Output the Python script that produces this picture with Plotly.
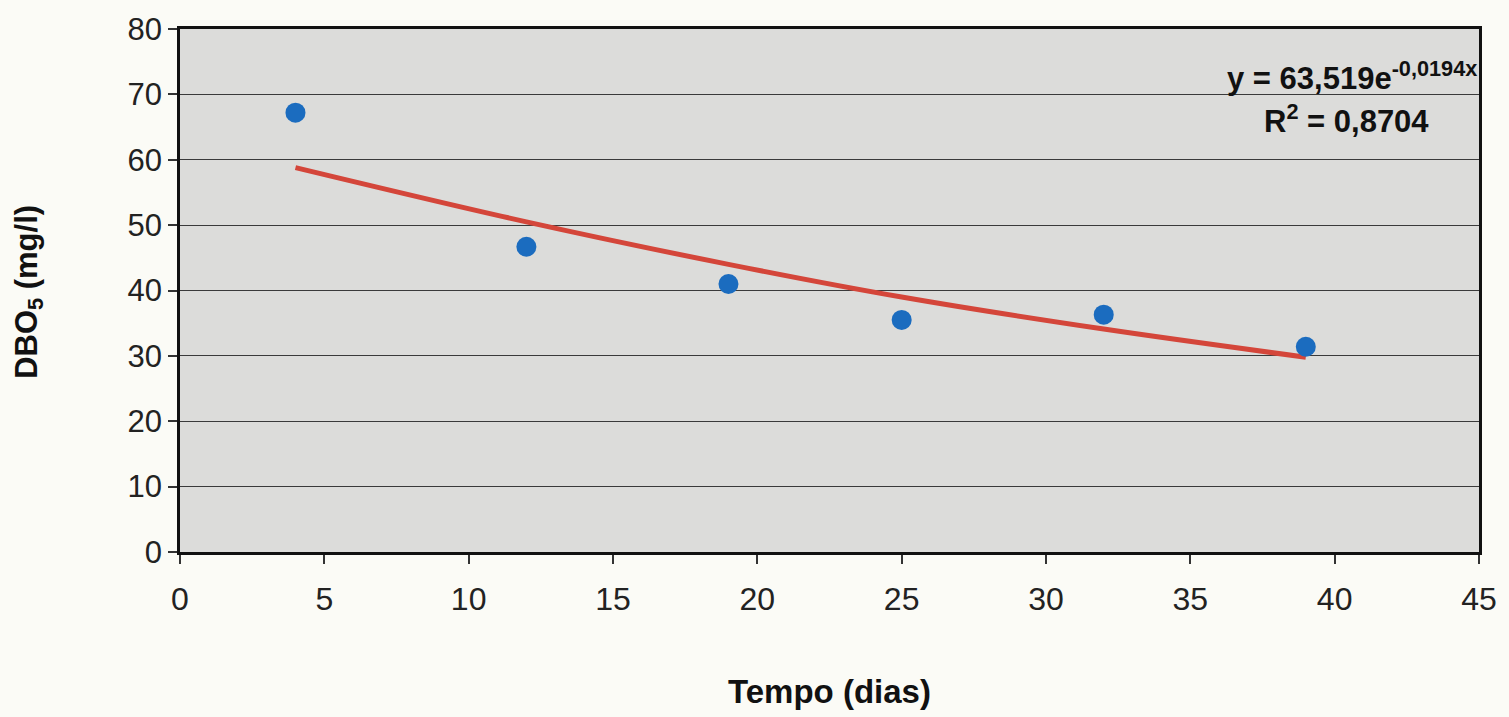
import plotly.graph_objects as go

# Data
tempo_dias = [4, 12, 19, 25, 32, 39]
dbo5 = [67.2, 46.7, 41.0, 35.5, 36.3, 31.4]

# Exponential trend line
trend_x = [4, 12, 19, 25, 32, 39]
trend_y = [58.8, 50.5, 44.0, 39.0, 34.1, 29.8]

x_ticks = [0, 5, 10, 15, 20, 25, 30, 35, 40, 45]
y_ticks = [0, 10, 20, 30, 40, 50, 60, 70, 80]

eq_text = "<b>y = 63,519e<sup>-0,0194x</sup></b>"
r2_text = "<b>R<sup>2</sup> = 0,8704</b>"

FONT = "Liberation Sans, Arial, sans-serif"

fig = go.Figure()
fig.add_trace(go.Scatter(
    x=trend_x, y=trend_y, mode="lines",
    line=dict(color="#d4463a", width=5, shape="spline"),
    showlegend=False, hoverinfo="skip",
))
fig.add_trace(go.Scatter(
    x=tempo_dias, y=dbo5, mode="markers",
    marker=dict(color="#1b6cbf", size=20, line=dict(width=0)),
    showlegend=False,
))

fig.add_annotation(x=40.6, y=72.8, xref="x", yref="y", text=eq_text,
                   showarrow=False, xanchor="center", yanchor="middle",
                   font=dict(family=FONT, size=31, color="#111111"))
fig.add_annotation(x=40.42, y=66.3, xref="x", yref="y", text=r2_text,
                   showarrow=False, xanchor="center", yanchor="middle",
                   font=dict(family=FONT, size=31, color="#111111"))

fig.add_annotation(x=0.5, y=-0.2676, xref="paper", yref="paper",
                   text="<b>Tempo (dias)</b>", showarrow=False,
                   xanchor="center", yanchor="middle",
                   font=dict(family=FONT, size=33, color="#111111"))
fig.add_annotation(x=-0.1164, y=0.497, xref="paper", yref="paper",
                   text="<b>DBO<sub>5</sub> (mg/l)</b>", showarrow=False,
                   textangle=-90, xanchor="center", yanchor="middle",
                   font=dict(family=FONT, size=31, color="#111111"))

fig.update_xaxes(
    range=[0, 45], tickvals=x_ticks, ticktext=[str(v) for v in x_ticks],
    showgrid=False, zeroline=False,
    showline=True, linecolor="#111111", linewidth=2.5, mirror=True,
    ticks="outside", ticklen=9, tickwidth=1.5, tickcolor="#333333",
    ticklabelstandoff=8,
    tickfont=dict(family=FONT, size=32, color="#222222"),
)
fig.update_yaxes(
    range=[0, 80], tickvals=y_ticks, ticktext=[str(v) for v in y_ticks],
    showgrid=True, gridcolor="#3a3a3a", gridwidth=1.3, zeroline=False,
    showline=True, linecolor="#111111", linewidth=2.5, mirror=True,
    ticks="outside", ticklen=9, tickwidth=1.5, tickcolor="#333333",
    tickfont=dict(family=FONT, size=31, color="#222222"),
)

fig.update_layout(
    width=1509, height=717,
    margin=dict(l=180, r=23, t=25, b=165),
    paper_bgcolor="#fbfbf6",
    plot_bgcolor="#dcdcda",
    font=dict(family=FONT),
)

fig.write_html("out.html")
